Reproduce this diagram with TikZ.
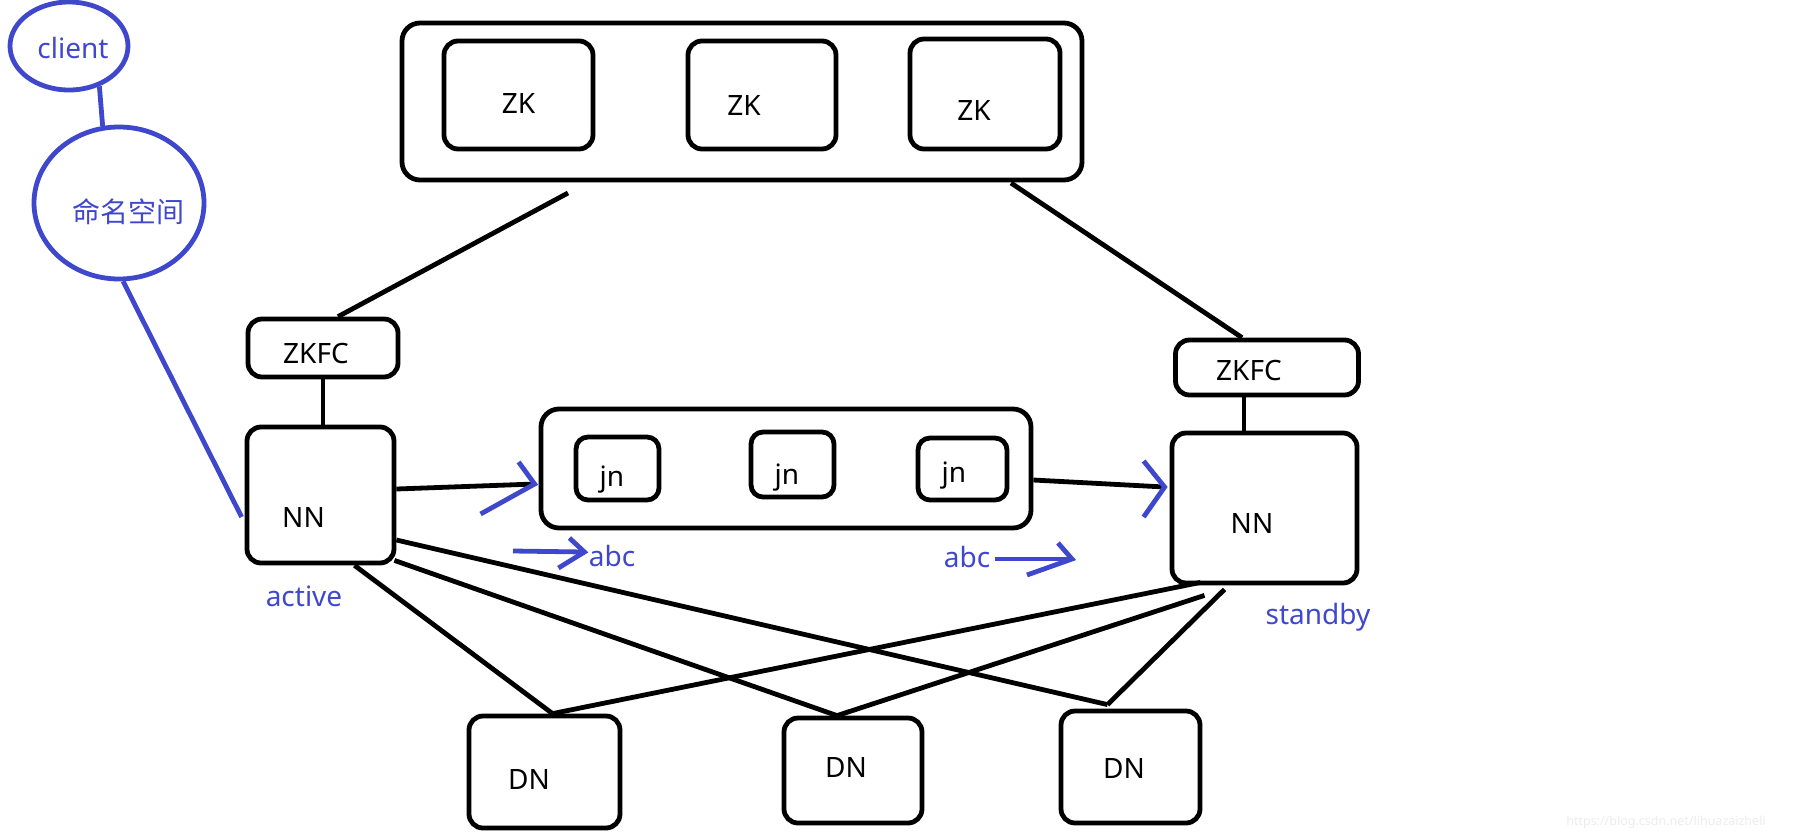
\documentclass[tikz,border=0pt]{standalone}
\usepackage{fontspec}
\setmainfont{Noto Sans}
\newfontfamily\cjk{Noto Sans CJK SC}
\usetikzlibrary{shapes.geometric}
\definecolor{penblue}{HTML}{3F48CC}
\newcommand{\labelSize}[0]{\fontsize{28}{32}\selectfont}

\begin{document}
\begin{tikzpicture}[x=1pt, y=-1pt, line width=4.8pt]
  \tikzset{box/.style={draw, rounded corners=14pt, inner sep=0pt},
           txt/.style={font=\labelSize, inner sep=0pt},
           pen/.style={draw=penblue},
           pentxt/.style={text=penblue, font=\labelSize, inner sep=0pt},
           bubble/.style={draw=penblue, ellipse, inner sep=0pt}}
  \useasboundingbox (0,0) rectangle (1793,839);

  \node[box, minimum width=680, minimum height=157, rounded corners=18pt] (zkgrp) at (742,101.5) {};
  \node[box, minimum width=149, minimum height=108, label={[txt, shift={(0,8)}]center:ZK}] (zk1) at (518.5,95) {};
  \node[box, minimum width=148, minimum height=108, label={[txt, shift={(-18,10)}]center:ZK}] (zk2) at (762,95) {};
  \node[box, minimum width=150, minimum height=110, label={[txt, shift={(-11,16)}]center:ZK}] (zk3) at (985,94) {};

  \node[box, minimum width=150, minimum height=58, label={[txt, shift={(-7,5)}]center:ZKFC}] (zkfcA) at (323,348) {};
  \node[box, minimum width=147, minimum height=136, label={[txt, shift={(-17,22)}]center:NN}] (nnA) at (320.5,495) {};
  \node[box, minimum width=183, minimum height=55, label={[txt, shift={(-18,2.5)}]center:ZKFC}] (zkfcB) at (1267,367.5) {};
  \node[box, minimum width=185, minimum height=150, label={[txt, shift={(-12.5,15)}]center:NN}] (nnB) at (1264.5,508) {};

  \node[box, minimum width=490, minimum height=119, rounded corners=18pt] (jngrp) at (786,468.5) {};
  \node[box, minimum width=83, minimum height=63, rounded corners=12pt, label={[txt, shift={(-5.5,11.5)}]center:jn}] (jn1) at (617.5,468.5) {};
  \node[box, minimum width=83, minimum height=65, rounded corners=12pt, label={[txt, shift={(-5.5,13.5)}]center:jn}] (jn2) at (792.5,464.5) {};
  \node[box, minimum width=89, minimum height=62, rounded corners=12pt, label={[txt, shift={(-8.5,7)}]center:jn}] (jn3) at (962.5,469) {};

  \node[box, minimum width=151, minimum height=112, label={[txt, shift={(-15.5,7)}]center:DN}] (dn1) at (544.5,772) {};
  \node[box, minimum width=138, minimum height=105, label={[txt, shift={(-7,-3.5)}]center:DN}] (dn2) at (853,770.5) {};
  \node[box, minimum width=139, minimum height=112, label={[txt, shift={(-6.5,1)}]center:DN}] (dn3) at (1130.5,767) {};

  \node[bubble, minimum width=118, minimum height=88] (client) at (69,46) {};
  \node[pentxt] (clientText) at (73,48) {client};
  \node[bubble, minimum width=170, minimum height=152] (ns) at (119,203) {};
  \node[pentxt, font=\labelSize\cjk] (nsText) at (128,212) {命名空间};
  \node[pentxt] (active) at (304,596) {active};
  \node[pentxt] (standby) at (1318,617) {standby};
  \node[pentxt] (abcL) at (612,556) {abc};
  \node[pentxt] (abcR) at (967,557) {abc};
  \node[txt, text=gray!15, font=\fontsize{12.5}{14}\selectfont] (mark) at (1666,822) {https://blog.csdn.net/lihuazaizheli};

  \coordinate (zkL) at (568,193);
  \coordinate (zkR) at (1011,183);
  \coordinate (abcLtail) at (513,551);
  \coordinate (abcRhead) at (1072,559);

  \draw (zkL) -- ([xshift=15]zkfcA.north);
  \draw (zkR) -- ([xshift=-25]zkfcB.north);
  \draw (zkfcA.south) -- (zkfcA.south |- nnA.north);
  \draw ([xshift=-23]zkfcB.south) -- ([xshift=-23]zkfcB.south |- nnB.north);

  \draw ([yshift=6]nnA.east) -- ([xshift=-4,yshift=-15.5]jngrp.west) coordinate (tipA);
  \draw[pen] ([shift={(-16,-22)}]tipA) -- (tipA) -- ([shift={(-54,30)}]tipA);
  \draw ([yshift=-11.5]jngrp.east) -- ([xshift=-5,yshift=21]nnB.west) coordinate (tipB);
  \draw[pen] ([shift={(-21,-26)}]tipB) -- (tipB) -- ([shift={(-21,30)}]tipB);

  \draw ([xshift=34]nnA.south) -- ([xshift=8]dn1.north);
  \draw ([xshift=-2,yshift=5]nnA.south east) -- ([xshift=-16]dn2.north);
  \draw ([yshift=-45]nnA.east) -- ([xshift=-23,yshift=4]dn3.north);
  \draw ([xshift=-64,yshift=3]nnB.south) -- ([xshift=8]dn1.north);
  \draw ([xshift=-60,yshift=-10]nnB.south) -- ([xshift=-16]dn2.north);
  \draw ([xshift=-40,yshift=-4]nnB.south) -- ([xshift=-23,yshift=4]dn3.north);

  \draw[pen] (client.-53) -- (ns.102);
  \draw[pen] (ns.-87) -- ([xshift=-3,yshift=-22]nnA.west);

  \draw[pen] (abcLtail) -- ([xshift=-2,yshift=4]abcL.west) coordinate (tipC);
  \draw[pen] ([shift={(-15,-14)}]tipC) -- (tipC) -- ([shift={(-26,16)}]tipC);
  \draw[pen] ([xshift=2,yshift=-2]abcR.east) -- (abcRhead);
  \draw[pen] ([shift={(-14,-16)}]abcRhead) -- (abcRhead) -- ([shift={(-45,16)}]abcRhead);
\end{tikzpicture}
\end{document}
